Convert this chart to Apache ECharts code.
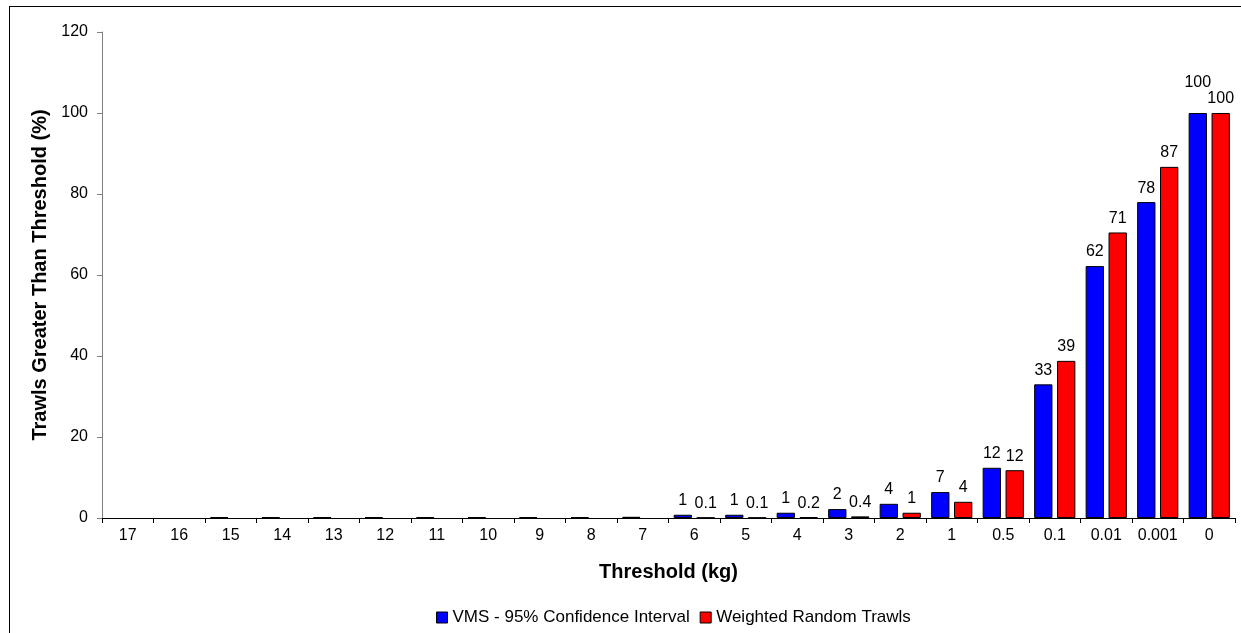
<!DOCTYPE html>
<html>
<head>
<meta charset="utf-8">
<script src="https://cdn.jsdelivr.net/npm/echarts@6/dist/echarts.min.js"></script>
<style>
  html, body { margin: 0; padding: 0; background: #fff; overflow: hidden; }
  #frame { position: absolute; left: 9px; top: 6px; width: 1300px; height: 700px; border-left: 1px solid #000; border-top: 1px solid #000; }
  #chart { position: absolute; left: 0; top: 0; width: 1241px; height: 633px; }
</style>
</head>
<body>
<div id="frame"></div>
<div id="chart"></div>
<script>
// threshold categories (kg)
const categories = ['17', '16', '15', '14', '13', '12', '11', '10', '9', '8', '7',
  '6', '5', '4', '3', '2', '1', '0.5', '0.1', '0.01', '0.001', '0']

// bar heights (%)
const vmsValues = [0, 0, 0.2, 0.2, 0.2, 0.2, 0.2, 0.2, 0.2, 0.2, 0.3,
  0.8, 0.8, 1.3, 2.2, 3.5, 6.4, 12.4, 33.0, 62.2, 78.0, 100]
const randomValues = [0, 0, 0, 0, 0, 0, 0, 0, 0, 0, 0,
  0.1, 0.1, 0.2, 0.4, 1.3, 4.0, 11.8, 38.8, 70.5, 86.7, 100]

// printed labels above bars
const vmsLabels = ['', '', '', '', '', '', '', '', '', '', '',
  '1', '1', '1', '2', '4', '7', '12', '33', '62', '78', '100']
const randomLabels = ['', '', '', '', '', '', '', '', '', '', '',
  '0.1', '0.1', '0.2', '0.4', '1', '4', '12', '39', '71', '87', '100']

const seriesNames = ['VMS - 95% Confidence Interval', 'Weighted Random Trawls']
const yTicks = { min: 0, max: 120, interval: 20 }

const font = 'Arial, "Liberation Sans", sans-serif'

const chart = echarts.init(document.getElementById('chart'))

const makeSeries = (name, values, labels, color) => ({
  name,
  type: 'bar',
  barGap: '25%',
  barCategoryGap: '20%',
  itemStyle: { color, borderColor: '#000', borderWidth: 1 },
  label: {
    show: true,
    position: 'top',
    distance: 6,
    fontFamily: font,
    fontSize: 16,
    color: '#000',
    formatter: (p) => labels[p.dataIndex],
  },
  data: values.map((v, i) => {
    if (v === 0) return '-' // empty category, no outline drawn
    // the first 100 label sits higher so both fit
    if (name === seriesNames[0] && i === values.length - 1) {
      return { value: v, label: { offset: [0, -16] } }
    }
    return v
  }),
})

chart.setOption({
  animation: false,
  textStyle: { fontFamily: font },
  grid: { left: 102, right: 6, top: 32, bottom: 115 },
  legend: {
    bottom: 2,
    left: 431, // centred under the plot area, not the page
    icon: 'rect',
    itemWidth: 11,
    itemHeight: 11,
    itemGap: 10,
    textStyle: { fontFamily: font, fontSize: 17, color: '#000' },
    data: seriesNames.map((n) => ({ name: n, itemStyle: { borderColor: '#000', borderWidth: 1 } })),
  },
  xAxis: {
    type: 'category',
    data: categories,
    name: 'Threshold (kg)',
    nameLocation: 'middle',
    nameGap: 44,
    nameTextStyle: { fontFamily: font, fontSize: 20, fontWeight: 'bold', color: '#000' },
    axisLine: { lineStyle: { color: '#000', width: 1 } },
    axisTick: { show: true, length: 5, alignWithLabel: false, lineStyle: { color: '#000' } },
    axisLabel: { fontFamily: font, fontSize: 16, color: '#000', margin: 10, interval: 0 },
  },
  yAxis: {
    type: 'value',
    min: yTicks.min,
    max: yTicks.max,
    interval: yTicks.interval,
    name: 'Trawls Greater Than Threshold (%)',
    nameLocation: 'middle',
    nameGap: 52,
    nameTextStyle: { fontFamily: font, fontSize: 20, fontWeight: 'bold', color: '#000' },
    axisLine: { show: true, lineStyle: { color: '#808080', width: 1 } },
    axisTick: { show: true, length: 5, lineStyle: { color: '#808080' } },
    axisLabel: { fontFamily: font, fontSize: 16, color: '#000', margin: 14 },
    splitLine: { show: false },
  },
  series: [
    makeSeries(seriesNames[0], vmsValues, vmsLabels, '#0000ff'),
    makeSeries(seriesNames[1], randomValues, randomLabels, '#ff0000'),
  ],
})
</script>
</body>
</html>
